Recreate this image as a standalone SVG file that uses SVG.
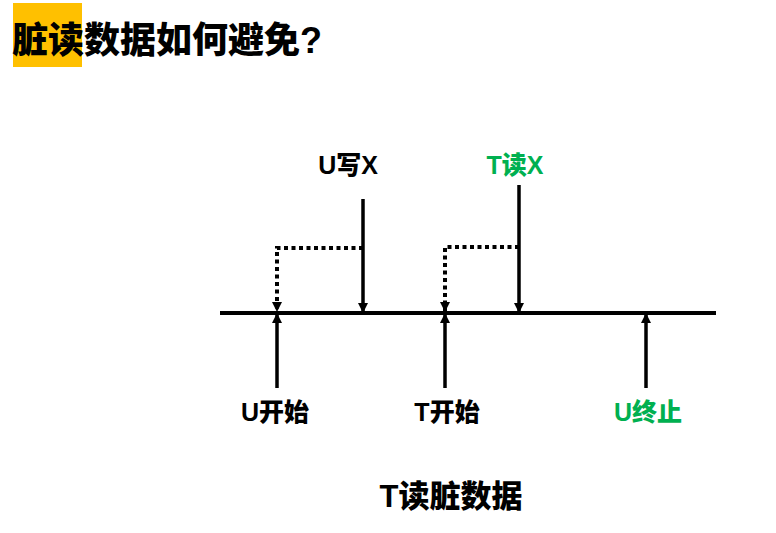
<svg xmlns="http://www.w3.org/2000/svg" width="776" height="533" viewBox="0 0 776 533">
<style>
text{font-family:"Liberation Sans","Noto Sans CJK SC",sans-serif;font-weight:900;fill:#000}
.lbl{font-size:25px;text-anchor:middle}
.green{fill:#00B050}
.solid{stroke:#000;stroke-width:3.5;fill:none}
.dot{stroke:#000;stroke-width:4;fill:none;stroke-dasharray:4 3.5}
</style>
<defs>
<marker id="ah" markerWidth="10" markerHeight="10" refX="9" refY="5" orient="auto" markerUnits="userSpaceOnUse" viewBox="0 0 10 10">
<path d="M0,0 L10,5 L0,10 z" fill="#000"/>
</marker>
</defs>
<g id="title">
<rect x="13" y="3" width="69" height="64" fill="#FFC000"/>
<text x="12" y="53" font-size="36">脏读数据如何避免?</text>
</g>
<g id="timeline">
<line x1="220" y1="313" x2="716" y2="313" stroke="#000" stroke-width="4"/>
</g>
<g id="connectors">
<line class="solid" x1="363" y1="199" x2="363" y2="312" marker-end="url(#ah)"/>
<polyline class="dot" points="363,248 277,248 277,311" marker-end="url(#ah)"/>
<line class="solid" x1="519" y1="185" x2="519" y2="312" marker-end="url(#ah)"/>
<polyline class="dot" points="519,247 445,247 445,311" marker-end="url(#ah)"/>
<line class="solid" stroke-width="4" x1="277" y1="388" x2="277" y2="314" marker-end="url(#ah)"/>
<line class="solid" stroke-width="4" x1="445" y1="388" x2="445" y2="314" marker-end="url(#ah)"/>
<line class="solid" stroke-width="4" x1="646" y1="388" x2="646" y2="314" marker-end="url(#ah)"/>
</g>
<g id="node-uwrite"><text class="lbl" x="348" y="174">U写X</text></g>
<g id="node-tread"><text class="lbl green" x="515" y="174">T读X</text></g>
<g id="node-ustart"><text class="lbl" x="275" y="421">U开始</text></g>
<g id="node-tstart"><text class="lbl" x="447" y="421">T开始</text></g>
<g id="node-uend"><text class="lbl green" x="648" y="421">U终止</text></g>
<g id="caption"><text x="451" y="507" font-size="31" text-anchor="middle">T读脏数据</text></g>
</svg>
